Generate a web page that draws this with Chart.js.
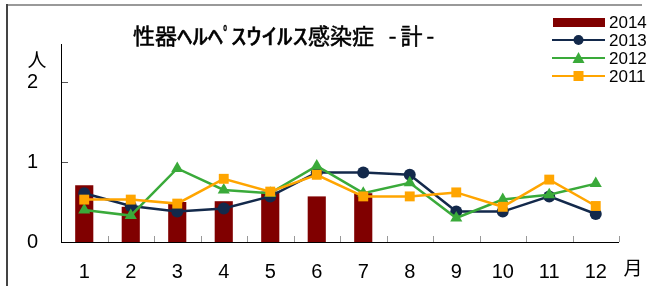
<!DOCTYPE html>
<html>
<head>
<meta charset="utf-8">
<script src="https://cdn.jsdelivr.net/npm/chart.js@4.4.1/dist/chart.umd.min.js"></script>
<style>
html,body{margin:0;padding:0;background:#fff;}
#wrap{position:relative;width:647px;height:286px;}
</style>
</head>
<body>
<div id="wrap"><canvas id="c" width="647" height="286"></canvas></div>
<script>
const months = ['1','2','3','4','5','6','7','8','9','10','11','12'];
const yTickLabels = ['0','1','2'];
const s2014 = [0.71,0.44,0.50,0.51,0.63,0.57,0.61,null,null,null,null,null];
const s2013 = [0.61,0.45,0.38,0.42,0.57,0.87,0.87,0.84,0.38,0.38,0.57,0.35];
const s2012 = [0.40,0.33,0.92,0.65,0.61,0.95,0.61,0.74,0.30,0.53,0.59,0.73];
const s2011 = [0.53,0.53,0.48,0.79,0.63,0.84,0.57,0.57,0.62,0.44,0.78,0.45];
const titleText = '性器ﾍﾙﾍﾟｽｳｲﾙｽ感染症 -計-';
const yUnit = '人';
const xUnit = '月';

const FONT = '"Liberation Sans", Arial, sans-serif';

const decor = {
  id:'decor',
  beforeDraw(chart){
    const ctx = chart.ctx;
    ctx.save();
    ctx.fillStyle='#fff';
    ctx.fillRect(0,0,chart.width,chart.height);
    ctx.fillStyle='#999';
    ctx.fillRect(6,4,636,2);
    ctx.fillStyle='#444';
    ctx.fillRect(6,4,2,282);
    ctx.restore();
  },
  afterDraw(chart){
    const ctx = chart.ctx;
    const ys = chart.scales.y;
    const ca = chart.chartArea;
    ctx.save();
    ctx.strokeStyle='#999';
    ctx.lineWidth=1;
    const step = (ca.right-ca.left)/months.length;
    for(let i=1;i<=months.length;i++){
      const x = Math.round(ca.left + i*step)+0.5;
      ctx.beginPath(); ctx.moveTo(x,ca.bottom-6); ctx.lineTo(x,ca.bottom); ctx.stroke();
    }
    ctx.strokeStyle='#555';
    [1,2].forEach(v=>{
      const y = Math.round(ys.getPixelForValue(v))+0.5;
      ctx.beginPath(); ctx.moveTo(ca.left,y); ctx.lineTo(ca.left+7,y); ctx.stroke();
    });
    ctx.strokeStyle='#000';
    ctx.beginPath(); ctx.moveTo(ca.left+0.5,44); ctx.lineTo(ca.left+0.5,ca.bottom+0.5); ctx.stroke();
    ctx.beginPath(); ctx.moveTo(ca.left,ca.bottom+0.5); ctx.lineTo(ca.right,ca.bottom+0.5); ctx.stroke();
    ctx.fillStyle='#000';
    ctx.font = '19px "Noto Sans CJK JP", sans-serif';
    ctx.textAlign='center'; ctx.textBaseline='middle';
    ctx.fillText(yUnit, 37, 60);
    ctx.fillText(xUnit, 633, 268);
    // title: half-width katakana drawn wider, as in the reference
    ctx.font = '22px "Noto Sans CJK JP", sans-serif';
    ctx.textAlign='left';
    ctx.strokeStyle='#000'; ctx.lineWidth=0.5;
    let tx = 133;
    const extraAfter = {' ':10,'-':4,'計':4};
    Array.from(titleText).forEach(ch=>{
      const code = ch.charCodeAt(0);
      let sx = 1;
      if(code===0xFF9F || code===0xFF9E) sx = 0.7;
      else if(code>=0xFF61 && code<=0xFF9D) sx = 1.4;
      const w = ctx.measureText(ch).width*sx;
      ctx.save();
      ctx.translate(tx,36);
      ctx.scale(sx,1);
      ctx.fillText(ch,0,0);
      ctx.strokeText(ch,0,0);
      ctx.restore();
      tx += w + (extraAfter[ch]||0);
    });
    // legend
    const items = chart.data.datasets;
    const ly = [22,40,58,76];
    ctx.font = '17px '+FONT;
    items.forEach((ds,i)=>{
      const y = ly[i];
      if(ds.type==='bar'){
        ctx.fillStyle = ds.backgroundColor;
        ctx.fillRect(553,y-4,52,9);
      } else {
        ctx.strokeStyle = ds.borderColor; ctx.lineWidth=2;
        ctx.beginPath(); ctx.moveTo(552,y); ctx.lineTo(605,y); ctx.stroke();
        ctx.fillStyle = ds.borderColor;
        const cx=578.5;
        if(ds.pointStyle==='circle'){ctx.beginPath();ctx.arc(cx,y,5,0,Math.PI*2);ctx.fill();}
        else if(ds.pointStyle==='triangle'){ctx.beginPath();ctx.moveTo(cx,y-6);ctx.lineTo(cx+6,y+5);ctx.lineTo(cx-6,y+5);ctx.closePath();ctx.fill();}
        else {ctx.fillRect(cx-5,y-5,10,10);}
      }
      ctx.fillStyle='#000';
      ctx.fillText(ds.label, 609, y+1);
    });
    ctx.restore();
  }
};

new Chart(document.getElementById('c'), {
  type:'bar',
  data:{
    labels: months,
    datasets:[
      {type:'bar',label:'2014',data:s2014,backgroundColor:'#800000',borderWidth:0,barPercentage:0.78,categoryPercentage:0.5,order:4},
      {type:'line',label:'2013',data:s2013,borderColor:'#13294b',backgroundColor:'#13294b',borderWidth:2.5,pointStyle:'circle',pointRadius:6,pointBorderWidth:0,tension:0,order:3},
      {type:'line',label:'2012',data:s2012,borderColor:'#3aaa3a',backgroundColor:'#3aaa3a',borderWidth:2.5,pointStyle:'triangle',pointRadius:7,pointBorderWidth:0,tension:0,order:2},
      {type:'line',label:'2011',data:s2011,borderColor:'#ffa500',backgroundColor:'#ffa500',borderWidth:2.5,pointStyle:'rect',pointRadius:7,pointBorderWidth:0,tension:0,order:1}
    ]
  },
  options:{
    responsive:false,
    animation:false,
    events:[],
    layout:{padding:{left:0,right:28,top:42,bottom:0}},
    plugins:{legend:{display:false},title:{display:false},tooltip:{enabled:false}},
    scales:{
      x:{
        grid:{display:false},
        border:{display:false},
        ticks:{color:'#000',font:{family:FONT,size:20},padding:10,maxRotation:0},
        afterFit(s){s.height=44;}
      },
      y:{
        min:0,max:2.5,
        grid:{display:false},
        border:{display:false},
        ticks:{stepSize:1,color:'#000',font:{family:FONT,size:20},padding:15,callback:(v)=>yTickLabels[v]},
        afterBuildTicks(s){s.ticks=s.ticks.filter(t=>Number.isInteger(t.value));},
        afterFit(s){s.width=61;}
      }
    }
  },
  plugins:[decor]
});
</script>
</body>
</html>
